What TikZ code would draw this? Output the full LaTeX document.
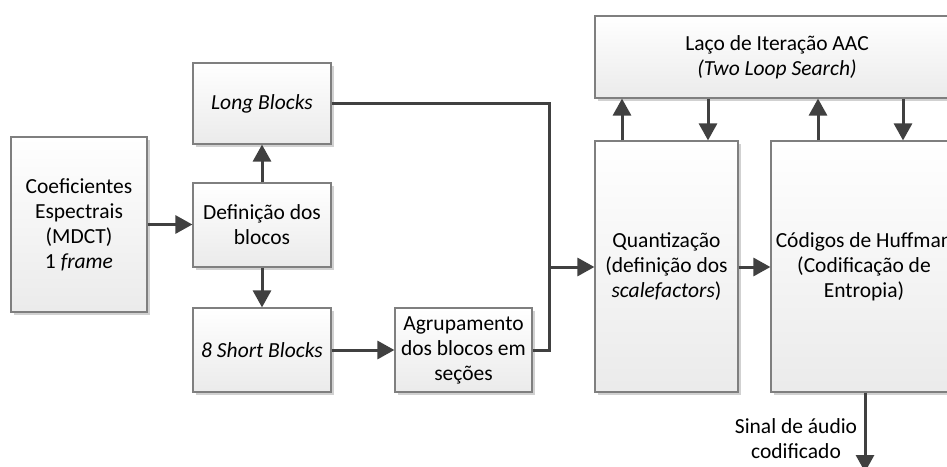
\documentclass[tikz,border=0pt]{standalone}
\usepackage{fontspec}
\setmainfont{Carlito}
\usetikzlibrary{arrows.meta,shadows}
\definecolor{linegray}{HTML}{404040}
\definecolor{boxedge}{HTML}{7F7F7F}
\tikzset{
  blk/.style={draw=boxedge, line width=1.2pt, top color=white, bottom color=black!8,
    drop shadow={shadow xshift=3pt, shadow yshift=-3pt, fill=black!18, opacity=1},
    align=center, inner sep=2pt, font=\fontsize{21.5}{25}\selectfont},
  flow/.style={draw=linegray, line width=3pt,
    -{Triangle[length=17pt,width=18pt]}},
  wire/.style={draw=linegray, line width=3pt}
}
\begin{document}
\begin{tikzpicture}[x=1pt,y=-1pt]
\useasboundingbox (0,0) rectangle (947,466);
% processing blocks
\node[blk, minimum width=136pt, minimum height=175pt] (coef) at (79,224.5)
  {Coeficientes\\Espectrais\\(MDCT)\\1 \textit{frame}};
\node[blk, minimum width=138pt, minimum height=81pt] (long) at (262,103.5) {\textit{Long Blocks}};
\node[blk, minimum width=138pt, minimum height=84pt] (def) at (262,225) {Definição dos\\blocos};
\node[blk, minimum width=138pt, minimum height=84pt] (short) at (262,350) {\textit{8 Short Blocks}};
\node[blk, minimum width=137pt, minimum height=84pt] (agr) at (463.5,350) {Agrupamento\\dos blocos em\\seções};
\node[blk, minimum width=364pt, minimum height=82pt] (laco) at (777,57)
  {Laço de Iteração AAC\\\textit{(Two Loop Search)}};
\node[blk, minimum width=143pt, minimum height=251pt] (quant) at (666.5,266.5)
  {Quantização\\(definição dos\\\textit{scalefactors})};
\node[blk, minimum width=186pt, minimum height=251pt] (cod) at (864,266.5)
  {Códigos de Huffman\\(Codificação de\\Entropia)};
% connectors
\coordinate (join) at (549,267);
\coordinate (out) at (865,472);
\draw[flow] (coef.east) -- (coef.east -| def.west);
\draw[flow] (def.north) -- (long.south);
\draw[flow] (def.south) -- (short.north);
\draw[flow] (short.east) -- (agr.west);
\draw[wire] (long.east) -| (join);
\draw[wire] (agr.east) -| (join);
\draw[flow] (join) -- (join -| quant.west);
\draw[flow] (quant.east |- join) -- (join -| cod.west);
\draw[flow] (quant.north -| 622,0) -- (laco.south -| 622,0);
\draw[flow] (laco.south -| 708,0) -- (quant.north -| 708,0);
\draw[flow] (cod.north -| 818,0) -- (laco.south -| 818,0);
\draw[flow] (laco.south -| 903,0) -- (cod.north -| 903,0);
\draw[flow] (cod.south -| out) -- (out);
\node[align=center, font=\fontsize{21.5}{25}\selectfont] (sinal) at (796,439)
  {Sinal de áudio\\codificado};
\end{tikzpicture}
\end{document}
